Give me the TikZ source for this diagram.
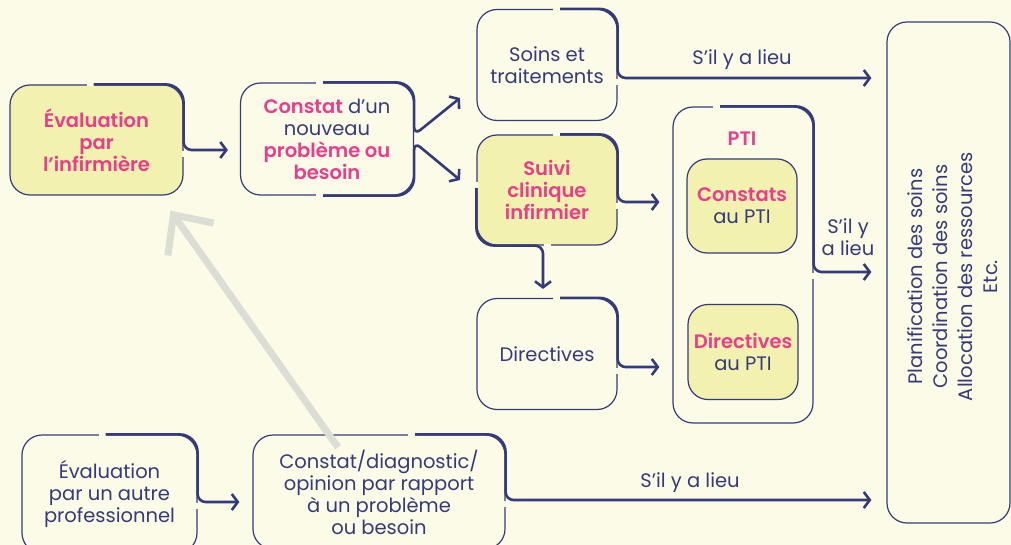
\documentclass[tikz,border=0pt]{standalone}
\usepackage{fontspec}
\setmainfont{Poppins}[BoldFont={* SemiBold}]
\usetikzlibrary{arrows.meta}
\definecolor{cream}{HTML}{FBFBE7}
\definecolor{navy}{HTML}{353B7A}
\definecolor{rose}{HTML}{E83E8C}
\definecolor{jaune}{HTML}{F2F1AF}
\definecolor{gris}{HTML}{DCDDD5}
\newcommand{\hl}[1]{\textcolor{rose}{\bfseries #1}}
% thick top-right edge of a box, running out into an arrow
\newcommand{\sortie}[4]{%
  \draw[trou] ([xshift=#2-7pt]#1.north) -- ([xshift=#2]#1.north);
  \coordinate (#1-out) at ([yshift=#3]#1.east);
  \draw[trou] ([yshift=#3-1pt]#1.east) -- ([yshift=#3-7pt]#1.east);
  \draw[flow, rounded corners=18pt] ([xshift=#2]#1.north) -- (#1.north east)
    [rounded corners=8pt] -- (#1-out) -- (#4 |- #1-out);
}

\begin{document}
\begin{tikzpicture}[x=1pt, y=-1pt,
  box/.style={draw=navy, line width=1.2pt, rounded corners=20pt, align=center,
    text=navy, inner sep=0pt, font=\fontsize{19.5}{22}\selectfont},
  jbox/.style={box, fill=jaune},
  hot/.style={text=rose, font=\fontsize{19.5}{22}\selectfont\bfseries},
  flow/.style={draw=navy, line width=2.6pt, -{Straight Barb[length=6pt,width=16pt]}},
  epais/.style={draw=navy, line width=2.6pt},
  trou/.style={draw=cream, line width=4pt},
  lieu/.style={text=navy, align=center, font=\fontsize{19.5}{22}\selectfont}
]
\useasboundingbox (0,0) rectangle (1011,545);
\fill[cream] (0,0) rectangle (1011,545);
\clip (0,0) rectangle (1011,545);

% boxes
\node[jbox, hot, minimum width=173, minimum height=110] (evalinf) at (96.5,140) {Évaluation\\par\\l’infirmière};
\node[box, minimum width=173, minimum height=112] (constat) at (327,139) {\hl{Constat} d’un\\nouveau\\\hl{problème ou}\\\hl{besoin}};
\node[box, minimum width=140, minimum height=111] (soins) at (547,65) {Soins et\\traitements};
\node[jbox, hot, minimum width=140, minimum height=110] (suivi) at (547,190) {Suivi\\clinique\\infirmier};
\node[box, minimum width=140, minimum height=111] (directives) at (547,354) {Directives};
\node[box, minimum width=140, minimum height=316] (pti) at (743,265) {};
\node[hot] (ptititre) at (742,139) {PTI};
\node[jbox, minimum width=110, minimum height=94] (cpti) at (742,206) {\hl{Constats}\\au PTI};
\node[jbox, minimum width=110, minimum height=95] (dpti) at (743,352) {\hl{Directives}\\au PTI};
\node[box, minimum width=123, minimum height=501] (plan) at (948.5,272.5) {};
\node[lieu, rotate=90, font=\fontsize{19.5}{25}\selectfont] (plantxt) at ([xshift=4pt,yshift=-4pt]plan.center)
  {Planification des soins\\Coordination des soins\\Allocation des ressources\\Etc.};
\node[box, minimum width=175, minimum height=118] (evalaut) at (109.5,494) {Évaluation\\par un autre\\professionnel};
\node[box, minimum width=252, minimum height=114] (diag) at (379,492) {Constat/diagnostic/\\opinion par rapport\\à un problème\\ou besoin};

% arrow ends
\coordinate (plan-in) at ([xshift=-15pt]plan.west);
\coordinate (pti-in) at ([xshift=-13pt]pti.west);
\coordinate (constat-in) at ([xshift=-12pt]constat.west);
\coordinate (diag-in) at ([xshift=-13pt]diag.west);
\coordinate (haut) at (460,98);
\coordinate (bas) at (460,180);
\coordinate (dir-in) at ([xshift=-4pt,yshift=9pt]directives.north);

% connectors
\sortie{evalinf}{-3pt}{-10pt}{constat-in}
\sortie{soins}{13pt}{-13pt}{plan-in}
\sortie{suivi}{13pt}{-12pt}{pti-in}
\sortie{directives}{13pt}{-13pt}{pti-in}
\sortie{pti}{-23pt}{-7pt}{plan-in}
\sortie{evalaut}{-4pt}{-8pt}{diag-in}
\sortie{diag}{36pt}{-8pt}{plan-in}

% constat: two ways out
\draw[trou] ([xshift=-11pt]constat.north) -- ([xshift=-4pt]constat.north);
\draw[trou] ([xshift=-11pt]constat.south) -- ([xshift=-4pt]constat.south);
\draw[flow, rounded corners=18pt] ([xshift=-4pt]constat.north) -- (constat.north east)
  [rounded corners=8pt] -- ([yshift=4pt]constat.east) -- (haut);
\draw[flow, rounded corners=18pt] ([xshift=-4pt]constat.south) -- (constat.south east)
  [rounded corners=8pt] -- ([yshift=-3pt]constat.east) -- (bas);

% suivi: down to directives
\draw[trou] ([yshift=2pt]suivi.west) -- ([yshift=8pt]suivi.west);
\draw[trou] ([xshift=-3pt]suivi.south) -- ([xshift=4pt]suivi.south);
\draw[flow, rounded corners=18pt] ([yshift=2pt]suivi.west) -- (suivi.south west)
  [rounded corners=8pt] -- ([xshift=-4pt]suivi.south) -- (dir-in);

% labels
\node[lieu] (lieu1) at (742,60) {S’il y a lieu};
\node[lieu] (lieu2) at (848,237) {S’il y\\a lieu};
\node[lieu] (lieu3) at (690,483) {S’il y a lieu};

% grey arrow back up
\draw[gris, line width=7pt, -{Straight Barb[length=30pt,width=56pt]}]
  ([xshift=-41pt,yshift=-13pt]diag.north) -- ([xshift=74pt,yshift=-15pt]evalinf.south);
\end{tikzpicture}
\end{document}
